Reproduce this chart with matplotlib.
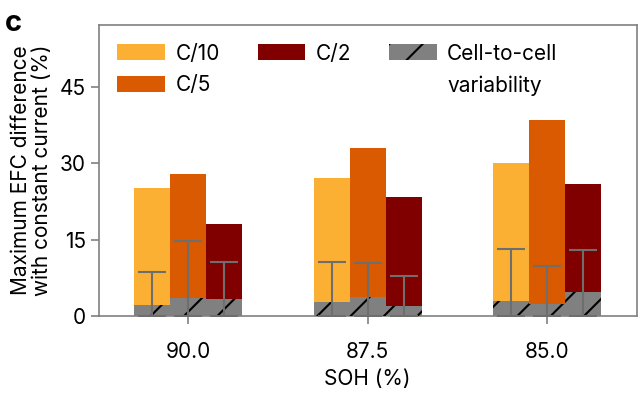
import numpy as np
import matplotlib.pyplot as plt
from matplotlib.patches import Patch
from matplotlib.ticker import MultipleLocator

plt.rcParams['font.family'] = ['Inter', 'DejaVu Sans']
plt.rcParams['hatch.color'] = 'black'
plt.rcParams['hatch.linewidth'] = 1.5

soh_labels = ['90.0', '87.5', '85.0']
rates = ['C/10', 'C/5', 'C/2']
colors = ['#fbb034', '#d95a00', '#800000']

# max EFC difference per rate, one value per SOH
efc_diff = {
    'C/10': [25.1, 27.2, 30.1],
    'C/5': [27.9, 33.0, 38.5],
    'C/2': [18.1, 23.3, 26.0],
}
# cell-to-cell variability (hatched part)
variability = {
    'C/10': [2.2, 2.7, 3.0],
    'C/5': [3.6, 3.8, 2.3],
    'C/2': [3.3, 2.0, 4.7],
}
# top of the error bar
err_top = {
    'C/10': [8.7, 10.6, 13.2],
    'C/5': [14.7, 10.5, 9.9],
    'C/2': [10.7, 7.9, 13.0],
}

fs = 15

fig = plt.figure(figsize=(6.4, 3.94), dpi=100)
ax = fig.add_axes([0.154, 0.198, 0.841, 0.739])

x = np.arange(len(soh_labels))
w = 0.2
gray = '#808080'

handles = []
for i, r in enumerate(rates):
    xs = x + (i - 1) * w
    b = ax.bar(xs, efc_diff[r], width=w, color=colors[i], zorder=2)
    hb = ax.bar(xs, variability[r], width=w, color=gray, hatch='/',
                edgecolor='black', linewidth=0, zorder=3)
    handles.append(b)
    v = np.array(variability[r])
    top = np.array(err_top[r])
    ax.errorbar(xs, v, yerr=[v, top - v], fmt='none', ecolor='#6e6e6e',
                elinewidth=1.5, capsize=10, capthick=1.5, zorder=4)

ax.set_xlim(-0.5, 2.5)
ax.set_ylim(0, 57.2)
ax.yaxis.set_major_locator(MultipleLocator(15))
ax.set_xticks(x)
ax.set_xticklabels(soh_labels)
ax.tick_params(labelsize=fs, length=6, width=1.2, color='#808080')
ax.tick_params(axis='x', pad=13)
ax.tick_params(axis='y', pad=3)
for s in ax.spines.values():
    s.set_color('#808080')
    s.set_linewidth(1.2)

ax.set_xlabel('SOH (%)', fontsize=fs, labelpad=5)
ax.set_ylabel('Maximum EFC difference\nwith constant current (%)', fontsize=fs,
              linespacing=1.05, labelpad=6)

# legend filled column-wise; blank entries keep "variability" under its label
blank = Patch(alpha=0)
leg_handles = [handles[0], handles[1], handles[2], blank, hb, blank]
leg_labels = ['C/10', 'C/5', 'C/2', '', 'Cell-to-cell', 'variability']
ax.legend(leg_handles, leg_labels, ncol=3, loc='upper left', frameon=False,
          fontsize=fs, handlelength=2.3, handleheight=0.8, handletextpad=0.5,
          columnspacing=1.8, labelspacing=0.55, borderaxespad=0.5)

fig.text(0.008, 0.975, 'c', fontsize=21, fontweight='bold', va='top')

fig.savefig('out.png', dpi=100)
